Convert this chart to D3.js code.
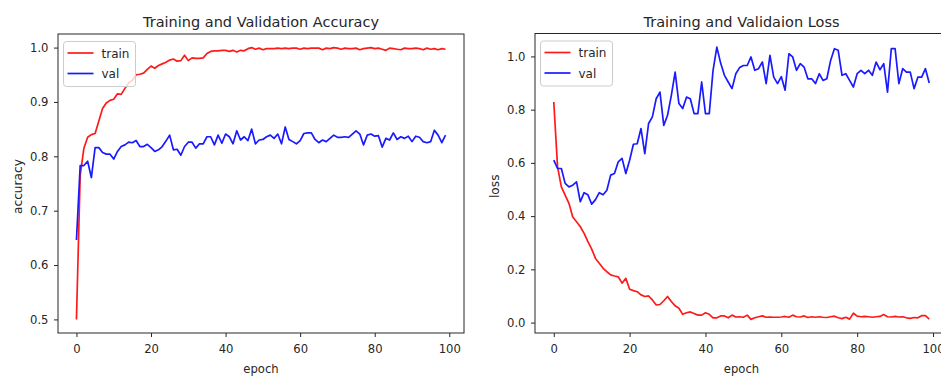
<!DOCTYPE html>
<html>
<head>
<meta charset="utf-8">
<script src="https://cdn.jsdelivr.net/npm/d3@7"></script>
<style>
  body { margin: 0; background: #fff; }
  svg { display: block; font-family: "DejaVu Sans", sans-serif; }
</style>
</head>
<body>
<svg id="chart" width="941" height="376"></svg>
<script>
// values, one per epoch (0..99)
const trainAcc = [
  0.500, 0.765, 0.815, 0.835, 0.840, 0.842, 0.865, 0.888, 0.898, 0.903,
  0.905, 0.915, 0.914, 0.925, 0.935, 0.940, 0.950, 0.951, 0.953, 0.960,
  0.966, 0.962, 0.967, 0.970, 0.973, 0.977, 0.979, 0.975, 0.976, 0.986,
  0.976, 0.981, 0.980, 0.980, 0.981, 0.989, 0.993, 0.994, 0.994, 0.995,
  0.995, 0.993, 0.995, 0.992, 0.995, 0.994, 0.998, 1.000, 0.997, 0.999,
  0.996, 0.998, 0.998, 0.998, 0.999, 0.998, 0.999, 0.998, 0.999, 0.999,
  0.997, 0.999, 0.998, 0.999, 0.999, 0.999, 0.996, 0.999, 0.998, 1.000,
  0.999, 0.997, 0.999, 0.998, 0.998, 0.999, 0.996, 0.998, 0.999, 1.000,
  0.998, 0.999, 0.997, 0.995, 0.999, 0.998, 0.997, 0.996, 0.999, 0.998,
  0.998, 0.999, 0.998, 0.996, 0.999, 0.997, 0.998, 0.996, 0.998, 0.997
];
const valAcc = [
  0.646, 0.783, 0.783, 0.791, 0.761, 0.816, 0.816, 0.807, 0.804, 0.804,
  0.795, 0.809, 0.818, 0.821, 0.826, 0.825, 0.829, 0.818, 0.818, 0.822,
  0.816, 0.809, 0.812, 0.818, 0.828, 0.839, 0.812, 0.813, 0.802, 0.818,
  0.826, 0.826, 0.815, 0.823, 0.823, 0.836, 0.836, 0.821, 0.839, 0.824,
  0.841, 0.836, 0.823, 0.847, 0.830, 0.836, 0.829, 0.850, 0.823, 0.830,
  0.831, 0.836, 0.839, 0.833, 0.841, 0.823, 0.854, 0.831, 0.827, 0.823,
  0.829, 0.842, 0.843, 0.843, 0.831, 0.825, 0.830, 0.827, 0.833, 0.839,
  0.835, 0.835, 0.836, 0.835, 0.841, 0.847, 0.841, 0.821, 0.839, 0.841,
  0.837, 0.838, 0.817, 0.833, 0.830, 0.843, 0.831, 0.836, 0.833, 0.837,
  0.827, 0.837, 0.835, 0.827, 0.825, 0.827, 0.848, 0.839, 0.825, 0.839
];
const trainLoss = [
  0.829, 0.585, 0.510, 0.479, 0.448, 0.397, 0.379, 0.360, 0.335, 0.304,
  0.276, 0.241, 0.223, 0.204, 0.191, 0.179, 0.175, 0.172, 0.148, 0.166,
  0.125, 0.120, 0.116, 0.104, 0.098, 0.100, 0.085, 0.066, 0.068, 0.082,
  0.098, 0.079, 0.063, 0.054, 0.031, 0.037, 0.040, 0.034, 0.028, 0.028,
  0.037, 0.031, 0.018, 0.018, 0.025, 0.025, 0.018, 0.028, 0.021, 0.022,
  0.020, 0.028, 0.012, 0.018, 0.022, 0.025, 0.020, 0.021, 0.020, 0.020,
  0.021, 0.023, 0.020, 0.028, 0.022, 0.021, 0.025, 0.019, 0.022, 0.020,
  0.022, 0.020, 0.019, 0.022, 0.024, 0.018, 0.015, 0.020, 0.013, 0.035,
  0.024, 0.022, 0.023, 0.022, 0.020, 0.022, 0.023, 0.030, 0.022, 0.021,
  0.023, 0.021, 0.022, 0.018, 0.016, 0.019, 0.018, 0.026, 0.026, 0.013
];
const valLoss = [
  0.610, 0.579, 0.579, 0.523, 0.510, 0.516, 0.529, 0.454, 0.488, 0.480,
  0.445, 0.462, 0.488, 0.480, 0.497, 0.554, 0.560, 0.604, 0.617, 0.560,
  0.610, 0.670, 0.672, 0.729, 0.635, 0.748, 0.773, 0.841, 0.866, 0.741,
  0.779, 0.854, 0.941, 0.823, 0.804, 0.847, 0.841, 0.785, 0.785, 0.904,
  0.785, 0.785, 0.948, 1.035, 0.975, 0.929, 0.904, 0.879, 0.935, 0.958,
  0.966, 0.966, 0.998, 0.948, 0.954, 0.979, 0.898, 1.004, 0.922, 0.898,
  0.924, 0.873, 1.010, 0.998, 0.948, 0.973, 0.960, 0.916, 0.916, 0.898,
  0.935, 0.910, 0.916, 0.985, 1.029, 1.023, 0.929, 0.935, 0.910, 0.885,
  0.935, 0.948, 0.935, 0.948, 0.929, 0.979, 0.950, 0.973, 0.866, 1.029,
  1.029, 0.898, 0.954, 0.941, 0.941, 0.879, 0.922, 0.922, 0.954, 0.900
];
const epochTicks = [0, 20, 40, 60, 80, 100];
const accTicks = [0.5, 0.6, 0.7, 0.8, 0.9, 1.0];
const lossTicks = [0.0, 0.2, 0.4, 0.6, 0.8, 1.0];
const seriesNames = ['train', 'val'];
const seriesColors = ['#ff1a1a', '#1a1aff'];

const svg = d3.select('#chart');
const ink = '#262626';
const smallFont = '11.6px';

function drawPanel(opt) {
  const epochs = d3.range(opt.series[0].length);
  // matplotlib style 5% margins
  const xPad = (epochs.length - 1) * 0.05;
  const x = d3.scaleLinear()
    .domain([-xPad, epochs.length - 1 + xPad])
    .range([opt.left, opt.right]);
  const all = opt.series.flat();
  const [lo, hi] = d3.extent(all);
  const yPad = (hi - lo) * 0.05;
  const y = d3.scaleLinear()
    .domain([lo - yPad, hi + yPad])
    .range([opt.bottom, opt.top]);

  const g = svg.append('g');

  // lines
  const line = d3.line()
    .x((d, i) => x(i))
    .y(d => y(d));
  opt.series.forEach((s, i) => {
    g.append('path')
      .datum(s)
      .attr('fill', 'none')
      .attr('stroke', seriesColors[i])
      .attr('stroke-width', 1.7)
      .attr('stroke-linejoin', 'round')
      .attr('d', line);
  });

  // axes
  const xAxis = g.append('g')
    .attr('transform', `translate(0,${opt.bottom})`)
    .call(d3.axisBottom(x).tickValues(epochTicks).tickFormat(d3.format('d'))
      .tickSize(4).tickPadding(7.5));
  const yAxis = g.append('g')
    .attr('transform', `translate(${opt.left},0)`)
    .call(d3.axisLeft(y).tickValues(opt.yTicks).tickFormat(d3.format('.1f'))
      .tickSize(4).tickPadding(5.5));
  [xAxis, yAxis].forEach(a => {
    a.select('.domain').remove();
    a.selectAll('line').attr('stroke', ink);
    a.selectAll('text').attr('fill', ink).style('font-size', smallFont)
      .style('font-family', '"DejaVu Sans", sans-serif');
  });

  // frame
  g.append('rect')
    .attr('x', opt.left).attr('y', opt.top)
    .attr('width', opt.right - opt.left).attr('height', opt.bottom - opt.top)
    .attr('fill', 'none').attr('stroke', ink).attr('stroke-width', 1);

  // title and labels
  g.append('text')
    .attr('x', (opt.left + opt.right) / 2).attr('y', opt.top - 7)
    .attr('text-anchor', 'middle').attr('fill', ink)
    .style('font-size', '14.5px').text(opt.title);
  g.append('text')
    .attr('x', (opt.left + opt.right) / 2).attr('y', 373)
    .attr('text-anchor', 'middle').attr('fill', ink)
    .style('font-size', smallFont).text('epoch');
  g.append('text')
    .attr('transform', `translate(${opt.left - 36},${(opt.top + opt.bottom) / 2 + 3}) rotate(-90)`)
    .attr('text-anchor', 'middle').attr('fill', ink)
    .style('font-size', '12.2px').text(opt.yLabel);

  // legend
  const lg = g.append('g').attr('transform', `translate(${opt.left + 5.5},${opt.top + 7.5})`);
  lg.append('rect')
    .attr('width', 72).attr('height', 45).attr('rx', 3)
    .attr('fill', 'white').attr('fill-opacity', 0.8)
    .attr('stroke', '#cccccc').attr('stroke-width', 1);
  seriesNames.forEach((name, i) => {
    const yy = 11.5 + i * 20.5;
    lg.append('line')
      .attr('x1', 4).attr('x2', 30).attr('y1', yy).attr('y2', yy)
      .attr('stroke', seriesColors[i]).attr('stroke-width', 1.7);
    lg.append('text')
      .attr('x', 38).attr('y', yy + 4.5)
      .attr('fill', ink).style('font-size', '12px').text(name);
  });
}

drawPanel({
  left: 58, right: 464, top: 34, bottom: 333,
  series: [trainAcc, valAcc], yTicks: accTicks,
  title: 'Training and Validation Accuracy', yLabel: 'accuracy'
});
drawPanel({
  left: 535, right: 948, top: 33.5, bottom: 333,
  series: [trainLoss, valLoss], yTicks: lossTicks,
  title: 'Training and Validaion Loss', yLabel: 'loss'
});
</script>
</body>
</html>
